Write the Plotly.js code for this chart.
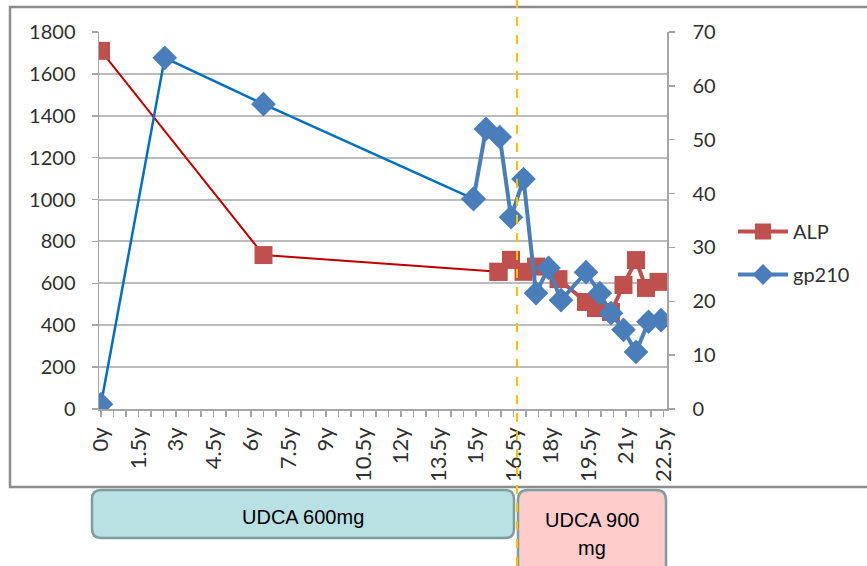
<!DOCTYPE html>
<html>
<head>
<meta charset="utf-8">
<script src="https://cdn.plot.ly/plotly-3.0.1.min.js"></script>
<style>html,body{margin:0;padding:0;background:#fff;}#chart{width:867px;height:566px;}</style>
</head>
<body>
<div id="chart"></div>
<script>
// ---- data ----
var alpYears = [0, 6.5, 15.9, 16.4, 16.9, 17.4, 18.3, 19.4, 19.8, 20.4, 20.9, 21.4, 21.8, 22.3];
var alpValues = [1710, 735, 655, 712, 655, 680, 620, 511, 482, 463, 592, 711, 578, 607];
var gpYears = [0, 2.55, 6.5, 14.9, 15.4, 15.95, 16.4, 16.9, 17.4, 17.9, 18.4, 19.4, 19.95, 20.4, 20.9, 21.4, 21.9, 22.4];
var gpValues = [0.9, 65.2, 56.6, 39.0, 52.0, 50.5, 35.6, 42.7, 21.5, 26.2, 20.2, 25.4, 21.5, 17.8, 14.7, 10.6, 16.2, 16.5];
var tickYears = [0, 1.5, 3, 4.5, 6, 7.5, 9, 10.5, 12, 13.5, 15, 16.5, 18, 19.5, 21, 22.5];
var tickLabels = ["0y","1.5y","3y","4.5y","6y","7.5y","9y","10.5y","12y","13.5y","15y","16.5y","18y","19.5y","21y","22.5y"];
var seriesNames = ["ALP", "gp210"];
var doseLabels = ["UDCA 600mg", "UDCA 900", "mg"];

// ---- geometry helpers (plot area in px) ----
var W = 867, H = 566;
var L = 99, R = 667, T = 32, B = 409;
function px(x){ return (x - L) / (R - L); }
function py(y){ return (B - y) / (B - T); }
function roundRect(x0, y0, x1, y1, r){
  var p = 'M' + px(x0 + r) + ',' + py(y0) +
    ' L' + px(x1 - r) + ',' + py(y0) +
    ' Q' + px(x1) + ',' + py(y0) + ' ' + px(x1) + ',' + py(y0 + r) +
    ' L' + px(x1) + ',' + py(y1 - r) +
    ' Q' + px(x1) + ',' + py(y1) + ' ' + px(x1 - r) + ',' + py(y1) +
    ' L' + px(x0 + r) + ',' + py(y1) +
    ' Q' + px(x0) + ',' + py(y1) + ' ' + px(x0) + ',' + py(y1 - r) +
    ' L' + px(x0) + ',' + py(y0 + r) +
    ' Q' + px(x0) + ',' + py(y0) + ' ' + px(x0 + r) + ',' + py(y0) + ' Z';
  return p;
}

var red = '#c0504d', darkRed = '#c00000', blue = '#4a7ebb', brightBlue = '#0070c0';
var alpSplit = 2, gpSplit = 3;

var traces = [
  { x: alpYears.slice(0, alpSplit + 1), y: alpValues.slice(0, alpSplit + 1), yaxis: 'y', mode: 'lines+markers',
    line: { color: darkRed, width: 2 }, marker: { symbol: 'square', size: 18, color: red },
    showlegend: false, hoverinfo: 'skip' },
  { x: alpYears.slice(alpSplit), y: alpValues.slice(alpSplit), yaxis: 'y', mode: 'lines+markers', name: seriesNames[0],
    legendgroup: 'a', line: { color: red, width: 4 }, marker: { symbol: 'square', size: 18, color: red } },
  { x: gpYears.slice(0, gpSplit + 1), y: gpValues.slice(0, gpSplit + 1), yaxis: 'y2', mode: 'lines+markers',
    line: { color: brightBlue, width: 2.5 }, marker: { symbol: 'diamond', size: 19, color: blue },
    showlegend: false, hoverinfo: 'skip' },
  { x: gpYears.slice(gpSplit), y: gpValues.slice(gpSplit), yaxis: 'y2', mode: 'lines+markers', name: seriesNames[1],
    legendgroup: 'b', line: { color: blue, width: 4 }, marker: { symbol: 'diamond', size: 19, color: blue } }
];

var tickFont = { family: 'Lato, "Open Sans", sans-serif', size: 20, color: '#303030' };

var layout = {
  width: W, height: H,
  margin: { l: L, r: W - R, t: T, b: H - B, pad: 0 },
  paper_bgcolor: '#ffffff', plot_bgcolor: '#ffffff',
  showlegend: true,
  legend: { x: px(733), y: py(212), xanchor: 'left', yanchor: 'top', font: { family: 'Lato, sans-serif', size: 20, color: '#303030' },
            bgcolor: 'rgba(0,0,0,0)', tracegroupgap: 14, itemwidth: 50 },
  xaxis: {
    range: [-0.08, 22.64], tickmode: 'array', tickvals: tickYears, ticktext: tickLabels, tickangle: -90,
    showgrid: false, zeroline: false, showline: true, linecolor: '#a6a6a6', linewidth: 1.5,
    ticks: 'outside', ticklen: 6, tickcolor: '#a6a6a6', tickwidth: 1.5,
    minor: { dtick: 0.5, tick0: 0, ticks: 'outside', ticklen: 6, tickcolor: '#a6a6a6', tickwidth: 1.5, showgrid: false },
    tickfont: { family: 'Lato, sans-serif', size: 22, color: '#303030' }, ticklabelstandoff: 2, fixedrange: true
  },
  yaxis: {
    range: [0, 1800], dtick: 200, tick0: 0, showgrid: true, gridcolor: '#bcbcbc', gridwidth: 2,
    zeroline: false, showline: true, linecolor: '#a6a6a6', linewidth: 1.5,
    ticks: 'outside', ticklen: 6, tickcolor: '#a6a6a6', tickwidth: 1.5, tickfont: tickFont, ticklabelstandoff: 12
  },
  yaxis2: {
    range: [0, 70], dtick: 10, tick0: 0, overlaying: 'y', side: 'right', showgrid: false, zeroline: false,
    showline: true, linecolor: '#a6a6a6', linewidth: 1.5,
    ticks: 'outside', ticklen: 6, tickcolor: '#a6a6a6', tickwidth: 1.5, tickfont: tickFont, ticklabelstandoff: 14
  },
  shapes: [
    { type: 'rect', xref: 'paper', yref: 'paper', x0: px(10), x1: px(880), y0: py(487), y1: py(7),
      line: { color: '#8c8c8c', width: 2.5 }, fillcolor: 'rgba(0,0,0,0)', layer: 'below' },
    { type: 'path', xref: 'paper', yref: 'paper', path: roundRect(92, 490, 514, 538, 9),
      fillcolor: '#b9e0e2', line: { color: '#7f9c9e', width: 2.5 }, layer: 'above' },
    { type: 'path', xref: 'paper', yref: 'paper', path: roundRect(518, 490, 666, 580, 10),
      fillcolor: '#ffcccc', line: { color: '#7f9c9e', width: 2.5 }, layer: 'above' },
    { type: 'line', xref: 'paper', yref: 'paper', x0: px(517), x1: px(517), y0: py(566), y1: py(0),
      line: { color: '#ffc000', width: 2, dash: 'dash' }, layer: 'above' }
  ],
  annotations: [
    { xref: 'paper', yref: 'paper', x: px(303), y: py(517), text: doseLabels[0], showarrow: false,
      xanchor: 'center', yanchor: 'middle', font: { family: '"Liberation Sans", Arial, sans-serif', size: 20, color: '#000' } },
    { xref: 'paper', yref: 'paper', x: px(592), y: py(520), text: doseLabels[1], showarrow: false,
      xanchor: 'center', yanchor: 'middle', font: { family: '"Liberation Sans", Arial, sans-serif', size: 20, color: '#000' } },
    { xref: 'paper', yref: 'paper', x: px(592), y: py(548), text: doseLabels[2], showarrow: false,
      xanchor: 'center', yanchor: 'middle', font: { family: '"Liberation Sans", Arial, sans-serif', size: 20, color: '#000' } }
  ]
};

Plotly.newPlot('chart', traces, layout, { displayModeBar: false, staticPlot: true });
</script>
</body>
</html>
